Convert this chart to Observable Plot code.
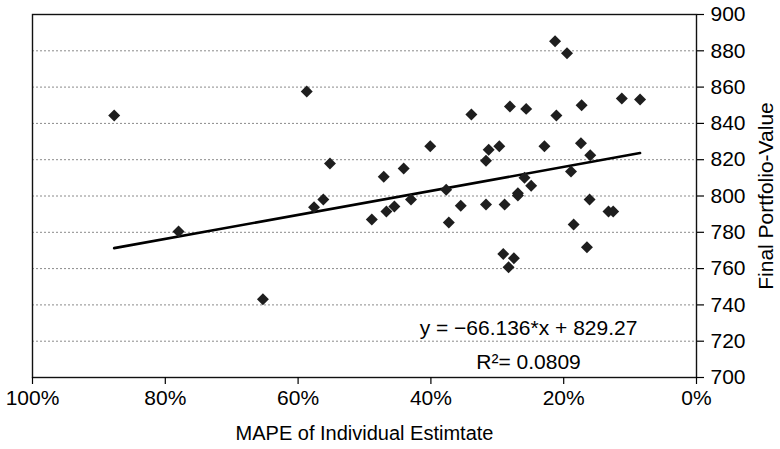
<!DOCTYPE html>
<html>
<head>
<meta charset="utf-8">
<script src="https://cdn.jsdelivr.net/npm/d3@7"></script>
<script src="https://cdn.jsdelivr.net/npm/@observablehq/plot@0.6"></script>
<style>
  html, body { margin: 0; padding: 0; background: #fff; }
  #chart svg { display: block; }
</style>
</head>
<body>
<div id="chart"></div>
<script>
// MAPE of individual estimate (fraction)
const mape = [
  0.877, 0.780, 0.653, 0.587, 0.552, 0.562, 0.576, 0.471, 0.489, 0.467,
  0.455, 0.441, 0.430, 0.401, 0.377, 0.373, 0.355, 0.339, 0.317, 0.313,
  0.317, 0.297, 0.289, 0.291, 0.283, 0.275, 0.281, 0.269, 0.269, 0.259,
  0.2565, 0.249, 0.229, 0.213, 0.211, 0.195, 0.189, 0.185, 0.173, 0.174,
  0.160, 0.161, 0.165, 0.1325, 0.1255, 0.1125, 0.085
];
// Final portfolio value
const portfolio = [
  844.4, 780.4, 743.1, 857.6, 817.9, 798.1, 793.8, 810.6, 787.1, 791.5,
  794.2, 815.2, 798.1, 827.4, 803.4, 785.4, 794.6, 844.9, 819.4, 825.5,
  795.3, 827.4, 795.3, 768.1, 760.8, 765.7, 849.3, 801.5, 800.3, 810.0,
  848.0, 805.6, 827.4, 885.3, 844.4, 878.7, 813.5, 784.3, 850.0, 829.1,
  822.5, 798.1, 771.8, 791.5, 791.5, 853.7, 853.2
];
const slope = -66.136;
const intercept = 829.27;
const r2 = 0.0809;
const xTicks = [1, 0.8, 0.6, 0.4, 0.2, 0];
const yTicks = [700, 720, 740, 760, 780, 800, 820, 840, 860, 880, 900];
const gridTicks = [720, 740, 760, 780, 800, 820, 840, 860, 880];
const xTitle = "MAPE of Individual Estimtate";
const yTitle = "Final Portfolio-Value";

const points = mape.map((m, i) => ({x: m, y: portfolio[i]}));
const xMin = d3.min(mape), xMax = d3.max(mape);
const fitLine = [xMax, xMin].map(x => ({x, y: intercept + slope * x}));

const eq1 = `y = \u2212${Math.abs(slope)}*x + ${intercept}`;
const eq2 = `R\u00B2= ${r2}`;

const chart = Plot.plot({
  width: 780,
  height: 449,
  marginLeft: 32,
  marginTop: 14,
  marginRight: 84,
  marginBottom: 72,
  style: {fontFamily: "'Liberation Sans', Arial, sans-serif", fontSize: "20px", color: "#000", background: "#fff"},
  x: {domain: [1, 0], ticks: xTicks, tickFormat: d3.format(".0%")},
  y: {domain: [700, 900], ticks: yTicks},
  marks: [
    Plot.gridY(gridTicks, {stroke: "#8a8a8a", strokeOpacity: 1, strokeDasharray: "2,2", strokeWidth: 1}),
    Plot.frame({stroke: "#111", strokeWidth: 1.4}),
    Plot.axisX({ticks: xTicks, tickFormat: d3.format(".0%"), tickSize: 7, tickPadding: 6, label: null, fontSize: 21, strokeWidth: 1.2}),
    Plot.axisX({ticks: [], label: xTitle, labelAnchor: "center", labelArrow: "none", labelOffset: 62, fontSize: 20}),
    Plot.axisY({anchor: "right", ticks: yTicks, tickSize: 7, tickPadding: 7, label: yTitle, labelAnchor: "center", labelArrow: "none", labelOffset: 76, fontSize: 21, strokeWidth: 1.2}),
    Plot.line(fitLine, {x: "x", y: "y", stroke: "#000", strokeWidth: 2.6}),
    Plot.dot(points, {x: "x", y: "y", symbol: "diamond2", r: 5.4, fill: "#1e1e1e", stroke: "none"}),
    Plot.text([eq1], {frameAnchor: "bottom-right", dx: -168, dy: -49, textAnchor: "middle", lineAnchor: "middle", fontSize: 21, fill: "#000"}),
    Plot.text([eq2], {frameAnchor: "bottom-right", dx: -168, dy: -15, textAnchor: "middle", lineAnchor: "middle", fontSize: 21, fill: "#000"})
  ]
});
document.getElementById("chart").appendChild(chart);
</script>
</body>
</html>
